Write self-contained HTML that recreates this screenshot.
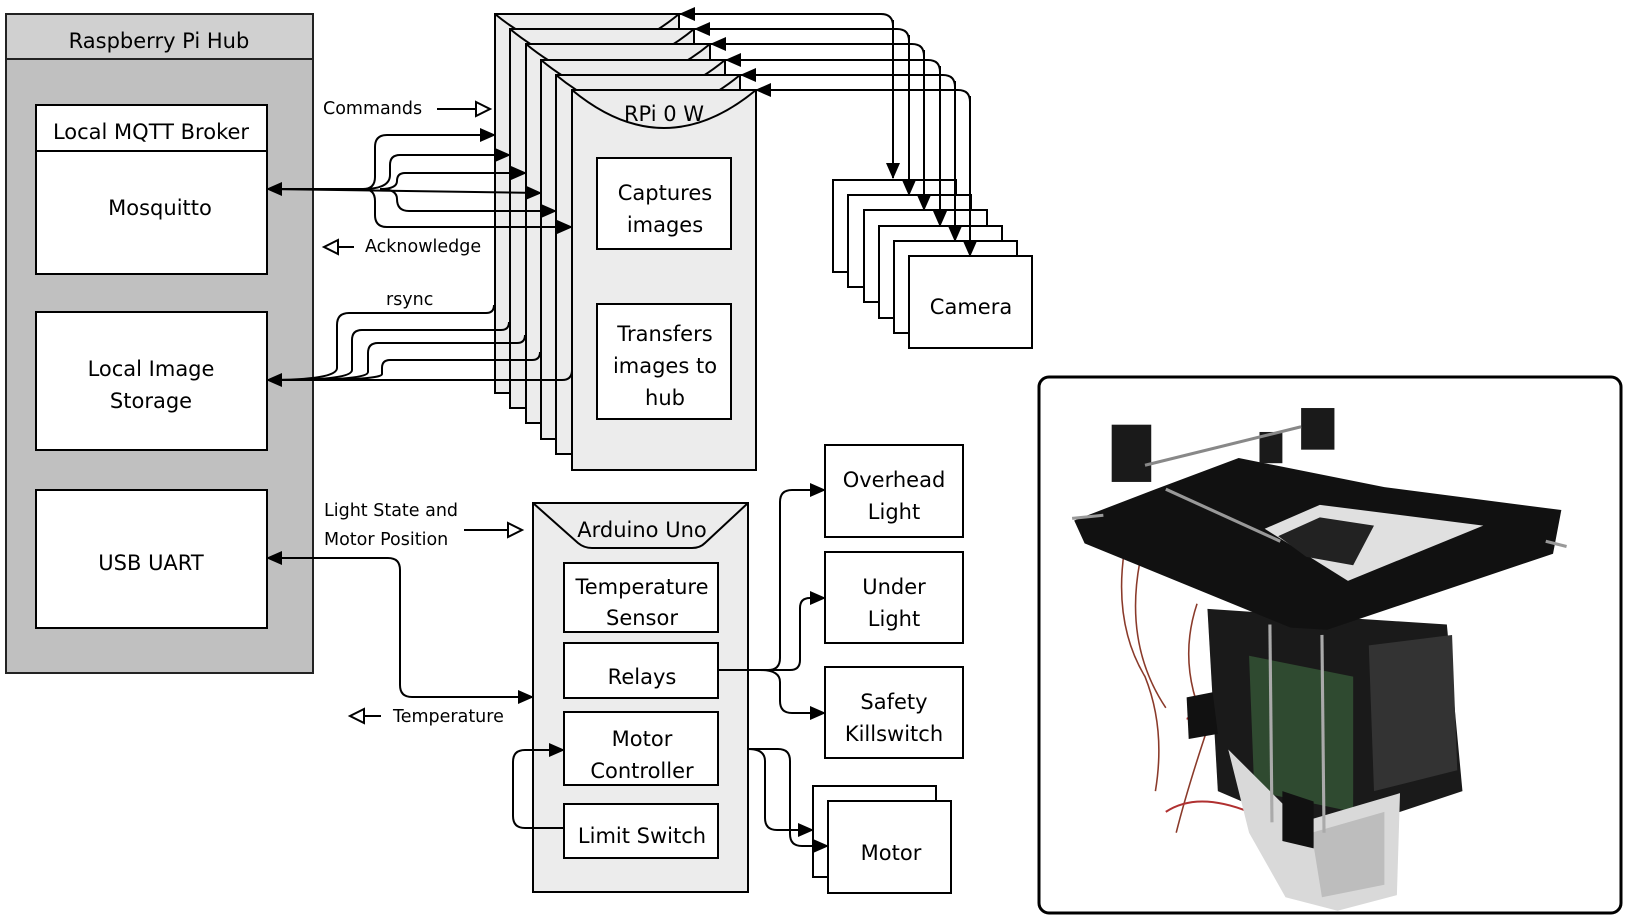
<!DOCTYPE html>
<html><head><meta charset="utf-8"><style>
html,body{margin:0;padding:0;background:#fff}
svg{display:block}
text{font-family:"DejaVu Sans","Liberation Sans",sans-serif;fill:#000;dominant-baseline:central;text-anchor:middle}
.b{font-size:21px}.s{font-size:17.5px;text-anchor:start}
</style></head><body>
<svg width="1629" height="920" viewBox="0 0 1629 920" xmlns="http://www.w3.org/2000/svg">
<defs>
<marker id="a" markerWidth="16" markerHeight="14" refX="15" refY="7" orient="auto" markerUnits="userSpaceOnUse"><path d="M0,0 L16,7 L0,14 z" fill="#000"/></marker>
</defs>
<!-- Hub -->
<rect x="6" y="14" width="307" height="659" fill="#c0c0c0" stroke="#222" stroke-width="2"/>
<rect x="6" y="14" width="307" height="45" fill="#d0d0d0" stroke="#222" stroke-width="2"/>
<text class="b" x="159" y="41">Raspberry Pi Hub</text>
<rect x="36" y="105" width="231" height="169" fill="#fff" stroke="#000" stroke-width="2"/>
<line x1="36" y1="151" x2="267" y2="151" stroke="#000" stroke-width="2"/>
<text class="b" x="151" y="132">Local MQTT Broker</text>
<text class="b" x="160" y="208">Mosquitto</text>
<rect x="36" y="312" width="231" height="138" fill="#fff" stroke="#000" stroke-width="2"/>
<text class="b" x="151" y="369">Local Image</text><text class="b" x="151" y="401">Storage</text>
<rect x="36" y="490" width="231" height="138" fill="#fff" stroke="#000" stroke-width="2"/>
<text class="b" x="151" y="563">USB UART</text>

<!-- RPi stack -->
<g fill="#ececec" stroke="#000" stroke-width="2">
<rect x="495" y="14" width="184" height="379"/><path d="M495,14 Q587,90 679,14" fill="none"/>
<rect x="510" y="29" width="184" height="379"/><path d="M510,29 Q602,105 694,29" fill="none"/>
<rect x="526" y="44" width="184" height="379"/><path d="M526,44 Q618,120 710,44" fill="none"/>
<rect x="541" y="60" width="184" height="379"/><path d="M541,60 Q633,136 725,60" fill="none"/>
<rect x="556" y="75" width="184" height="379"/><path d="M556,75 Q648,151 740,75" fill="none"/>
<rect x="572" y="90" width="184" height="380"/><path d="M572,90 Q664,166 756,90" fill="none"/>
</g>
<text class="b" x="664" y="114">RPi 0 W</text>
<rect x="597" y="158" width="134" height="91" fill="#fff" stroke="#000" stroke-width="2"/>
<text class="b" x="665" y="193">Captures</text><text class="b" x="665" y="225">images</text>
<rect x="597" y="304" width="134" height="115" fill="#fff" stroke="#000" stroke-width="2"/>
<text class="b" x="665" y="334">Transfers</text><text class="b" x="665" y="366">images to</text><text class="b" x="665" y="398">hub</text>

<!-- cameras -->
<g fill="#fff" stroke="#000" stroke-width="2">
<rect x="833" y="180" width="123" height="92"/>
<rect x="848" y="195" width="123" height="92"/>
<rect x="864" y="210" width="123" height="92"/>
<rect x="879" y="226" width="123" height="92"/>
<rect x="894" y="241" width="123" height="92"/>
<rect x="909" y="256" width="123" height="92"/>
</g>
<text class="b" x="971" y="307">Camera</text>

<g fill="none" stroke="#000" stroke-width="2">
<path d="M893,178 L893,26 Q893,14 881,14 L680,14" marker-end="url(#a)"/>
<path d="M909,193 L909,41 Q909,29 897,29 L695,29" marker-end="url(#a)"/>
<path d="M924,208 L924,56 Q924,44 912,44 L711,44" marker-end="url(#a)"/>
<path d="M940,224 L940,72 Q940,60 928,60 L726,60" marker-end="url(#a)"/>
<path d="M955,239 L955,87 Q955,75 943,75 L741,75" marker-end="url(#a)"/>
<path d="M970,254 L970,102 Q970,90 958,90 L756,90" marker-end="url(#a)"/>
<path d="M893,20 L893,178" marker-end="url(#a)"/>
<path d="M909,35 L909,195" marker-end="url(#a)"/>
<path d="M924,50 L924,210" marker-end="url(#a)"/>
<path d="M940,66 L940,226" marker-end="url(#a)"/>
<path d="M955,81 L955,241" marker-end="url(#a)"/>
<path d="M970,96 L970,256" marker-end="url(#a)"/>
<path d="M290,189 L267,189" marker-end="url(#a)"/>
<path d="M267,189 L363,189 Q375,189 375,177 L375,147 Q375,135 387,135 L495,135" marker-end="url(#a)"/>
<path d="M363,189 Q390,189 390,175 L390,165 Q390,155 400,155 L510,155" marker-end="url(#a)"/>
<path d="M380,189 Q397,189 397,181 Q397,173 405,173 L526,173" marker-end="url(#a)"/>
<path d="M267,189 L541,193" marker-end="url(#a)"/>
<path d="M380,189 Q397,189 397,199 Q397,211 409,211 L556,211" marker-end="url(#a)"/>
<path d="M363,189 Q375,189 375,201 L375,215 Q375,227 387,227 L572,227" marker-end="url(#a)"/>
<path d="M290,380 L267,380" marker-end="url(#a)"/>
<path d="M267,380 Q337,380 337,368 L337,325 Q337,313 349,313 L486,313 Q494,313 494,305"/>
<path d="M280,380 Q352,380 352,370 L352,340 Q352,330 362,330 L501,330 Q509,330 509,322"/>
<path d="M290,380 Q368,380 368,372 L368,353 Q368,343 378,343 L517,343 Q525,343 525,335"/>
<path d="M300,380 Q382,380 382,374 L382,368 Q382,360 390,360 L532,360 Q540,360 540,352"/>
<path d="M267,380 L562,380 Q572,380 572,370"/>
<line x1="437" y1="109" x2="476" y2="109"/><path d="M476,102 L490,109 L476,116 z" fill="#fff"/>
<path d="M338,240 L324,247 L338,254 z" fill="#fff"/><line x1="338" y1="247" x2="354" y2="247"/>
<line x1="464" y1="530" x2="508" y2="530"/><path d="M508,523 L522,530 L508,537 z" fill="#fff"/>
<path d="M364,709 L350,716 L364,723 z" fill="#fff"/><line x1="364" y1="716" x2="381" y2="716"/>
</g>
<text class="s" x="323" y="109">Commands</text>
<text class="s" x="365" y="247">Acknowledge</text>
<text class="s" x="386" y="300">rsync</text>
<text class="s" x="324" y="511">Light State and</text>
<text class="s" x="324" y="540">Motor Position</text>
<text class="s" x="393" y="717">Temperature</text>

<!-- Arduino -->
<rect x="533" y="503" width="215" height="389" fill="#ececec" stroke="#000" stroke-width="2"/>
<path d="M533,503 L578,543 Q584,548 592,548 L692,548 Q700,548 705,543 L748,503" fill="none" stroke="#000" stroke-width="2"/>
<text class="b" x="642" y="530">Arduino Uno</text>
<g fill="#fff" stroke="#000" stroke-width="2">
<rect x="564" y="563" width="154" height="69"/>
<rect x="564" y="643" width="154" height="55"/>
<rect x="564" y="712" width="154" height="73"/>
<rect x="564" y="804" width="154" height="54"/>
<rect x="825" y="445" width="138" height="92"/>
<rect x="825" y="552" width="138" height="91"/>
<rect x="825" y="667" width="138" height="91"/>
<rect x="813" y="786" width="123" height="91"/>
<rect x="828" y="801" width="123" height="92"/>
</g>
<text class="b" x="642" y="587">Temperature</text><text class="b" x="642" y="618">Sensor</text>
<text class="b" x="642" y="677">Relays</text>
<text class="b" x="642" y="739">Motor</text><text class="b" x="642" y="771">Controller</text>
<text class="b" x="642" y="836">Limit Switch</text>
<text class="b" x="894" y="480">Overhead</text><text class="b" x="894" y="512">Light</text>
<text class="b" x="894" y="587">Under</text><text class="b" x="894" y="619">Light</text>
<text class="b" x="894" y="702">Safety</text><text class="b" x="894" y="734">Killswitch</text>
<text class="b" x="891" y="853">Motor</text>
<g fill="none" stroke="#000" stroke-width="2">
<path d="M290,558 L267,558" marker-end="url(#a)"/>
<path d="M267,558 L388,558 Q400,558 400,570 L400,685 Q400,697 412,697 L533,697" marker-end="url(#a)"/>
<path d="M564,828 L525,828 Q513,828 513,816 L513,762 Q513,750 525,750 L564,750" marker-end="url(#a)"/>
<path d="M718,670 L768,670 Q780,670 780,658 L780,502 Q780,490 792,490 L825,490" marker-end="url(#a)"/>
<path d="M760,670 L790,670 Q800,670 800,660 L800,608 Q800,598 810,598 L825,598" marker-end="url(#a)"/>
<path d="M760,670 Q780,670 780,682 L780,701 Q780,713 792,713 L825,713" marker-end="url(#a)"/>
<path d="M748,749 Q765,749 765,761 L765,818 Q765,830 777,830 L813,830" marker-end="url(#a)"/>
<path d="M748,749 L778,749 Q790,749 790,761 L790,834 Q790,846 802,846 L828,846" marker-end="url(#a)"/>
</g>

<!-- photo -->
<rect x="1039" y="377" width="582" height="536" rx="10" fill="#fff" stroke="#000" stroke-width="3"/>
<g transform="scale(1.0409)">
<path d="M1080,530 Q1070,600 1100,650 Q1120,700 1110,760 M1095,540 Q1080,620 1120,680 M1150,580 Q1130,640 1160,700 Q1140,760 1130,800" stroke="#8a3a2a" stroke-width="1.5" fill="none"/>
<path d="M1140,690 L1230,720 M1120,780 Q1150,760 1200,780" stroke="#b03030" stroke-width="2" fill="none"/>
<polygon points="1160,585 1390,600 1405,760 1330,785 1240,790 1170,760" fill="#1a1a1a"/>
<polygon points="1200,630 1300,650 1300,780 1205,760" fill="#2f4a30"/>
<polygon points="1315,620 1395,610 1400,740 1320,760" fill="#333"/>
<polygon points="1180,720 1250,790 1345,762 1342,860 1285,875 1235,862 1200,800" fill="#d9d9d9"/>
<polygon points="1260,800 1330,780 1330,850 1270,862" fill="#bdbdbd"/>
<polygon points="1232,760 1262,770 1262,815 1232,808" fill="#111"/>
<polygon points="1140,670 1165,665 1170,705 1142,710" fill="#111"/>
<polygon points="1032,500 1110,470 1190,440 1330,468 1500,490 1492,532 1275,605 1240,603 1042,522" fill="#111"/>
<polygon points="1215,508 1268,485 1425,505 1295,558" fill="#e0e0e0"/>
<polygon points="1228,515 1268,497 1320,505 1300,543 1255,535" fill="#222"/>
<rect x="1068" y="408" width="38" height="55" fill="#1a1a1a"/>
<rect x="1250" y="392" width="32" height="40" fill="#1a1a1a"/>
<rect x="1210" y="415" width="22" height="30" fill="#1a1a1a"/>
<line x1="1100" y1="447" x2="1250" y2="410" stroke="#888" stroke-width="3"/>
<line x1="1120" y1="470" x2="1230" y2="520" stroke="#999" stroke-width="3"/>
<line x1="1030" y1="498" x2="1060" y2="495" stroke="#999" stroke-width="3"/>
<line x1="1485" y1="520" x2="1505" y2="525" stroke="#999" stroke-width="3"/>
<line x1="1220" y1="600" x2="1222" y2="790" stroke="#aaa" stroke-width="3"/>
<line x1="1270" y1="610" x2="1272" y2="800" stroke="#aaa" stroke-width="3"/>
</g>
</svg>
</body></html>
